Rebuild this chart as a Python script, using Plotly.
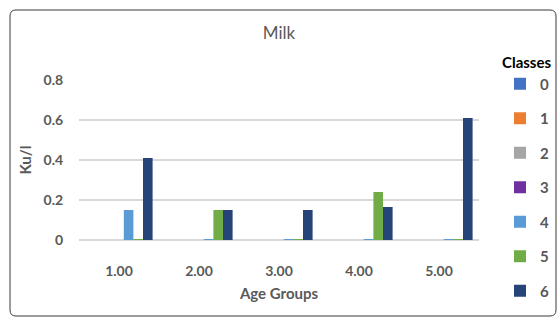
import plotly.graph_objects as go

age_groups = ["1.00", "2.00", "3.00", "4.00", "5.00"]
classes = ["0", "1", "2", "3", "4", "5", "6"]
values = {
    "0": [0, 0, 0, 0, 0],
    "1": [0, 0, 0, 0, 0],
    "2": [0, 0, 0, 0, 0],
    "3": [0, 0, 0, 0, 0],
    "4": [0.15, 0.005, 0.005, 0.005, 0.005],
    "5": [0.005, 0.15, 0.005, 0.24, 0.005],
    "6": [0.41, 0.15, 0.15, 0.165, 0.61],
}
colors = ["#4472C4", "#ED7D31", "#A5A5A5", "#7030A0", "#5B9BD5", "#70AD47", "#264478"]

FONT = "Lato"
GRAY = "#595959"

fig = go.Figure()
for c, col in zip(classes, colors):
    fig.add_trace(go.Bar(
        x=age_groups, y=values[c], name=c, legendgroup=c,
        marker=dict(color=col, line=dict(width=0)),
    ))

# chart border (rounded) in paper coords
L, R, T, B = 79, 479, 80, 240
def px(x): return (x - L) / (R - L)
def py(y): return (B - y) / (B - T)
x0, x1, y0, y1, r = 10, 556, 10, 316, 6
path = (f"M {px(x0+r)} {py(y0)} L {px(x1-r)} {py(y0)} Q {px(x1)} {py(y0)} {px(x1)} {py(y0+r)} "
        f"L {px(x1)} {py(y1-r)} Q {px(x1)} {py(y1)} {px(x1-r)} {py(y1)} "
        f"L {px(x0+r)} {py(y1)} Q {px(x0)} {py(y1)} {px(x0)} {py(y1-r)} "
        f"L {px(x0)} {py(y0+r)} Q {px(x0)} {py(y0)} {px(x0+r)} {py(y0)} Z")
fig.add_shape(type="path", path=path, xref="paper", yref="paper",
              line=dict(color="#3a3a3a", width=1), layer="below")

fig.update_layout(
    width=558, height=323,
    margin=dict(l=L, r=558 - R, t=T, b=323 - B, autoexpand=False),
    paper_bgcolor="white", plot_bgcolor="white",
    barmode="group", bargap=0.16, bargroupgap=0,
    font=dict(family=FONT, color=GRAY, size=14),
    title=dict(text="Milk", x=0.5, xanchor="center", y=1 - 33 / 323, yanchor="middle",
               font=dict(family=FONT, size=17, color=GRAY)),
    xaxis=dict(showgrid=False, showline=False, zeroline=False,
               tickfont=dict(family=FONT, size=14, color=GRAY, weight="bold"),
               ticks="outside", ticklen=18, tickcolor="rgba(0,0,0,0)",
               title=dict(text="Age Groups", standoff=10,
                          font=dict(family=FONT, size=15, color=GRAY, weight="bold"))),
    yaxis=dict(range=[0, 0.8], tickvals=[0, 0.2, 0.4, 0.6, 0.8],
               ticktext=["0", "0.2", "0.4", "0.6", "0.8"],
               showgrid=True, gridcolor="#d9d9d9", gridwidth=1.5,
               zeroline=True, zerolinecolor="#d9d9d9", zerolinewidth=1.5,
               showline=False,
               tickfont=dict(family=FONT, size=14, color=GRAY, weight="bold"),
               ticks="outside", ticklen=12, tickcolor="rgba(0,0,0,0)",
               title=dict(text="Ku/l", standoff=8,
                          font=dict(family=FONT, size=15, color=GRAY, weight="bold"))),
    legend=dict(x=px(500), xanchor="left", y=py(48), yanchor="top",
                title=dict(text="Classes", font=dict(family=FONT, size=15, color="black", weight="bold")),
                font=dict(family=FONT, size=15, color=GRAY, weight="bold"),
                tracegroupgap=12, itemwidth=30, bgcolor="rgba(0,0,0,0)",
                maxheight=1),
    showlegend=True,
)

fig.write_html("out.html", config={"displayModeBar": False},
               post_script="document.body.style.margin='0';document.body.style.overflow='hidden';")
